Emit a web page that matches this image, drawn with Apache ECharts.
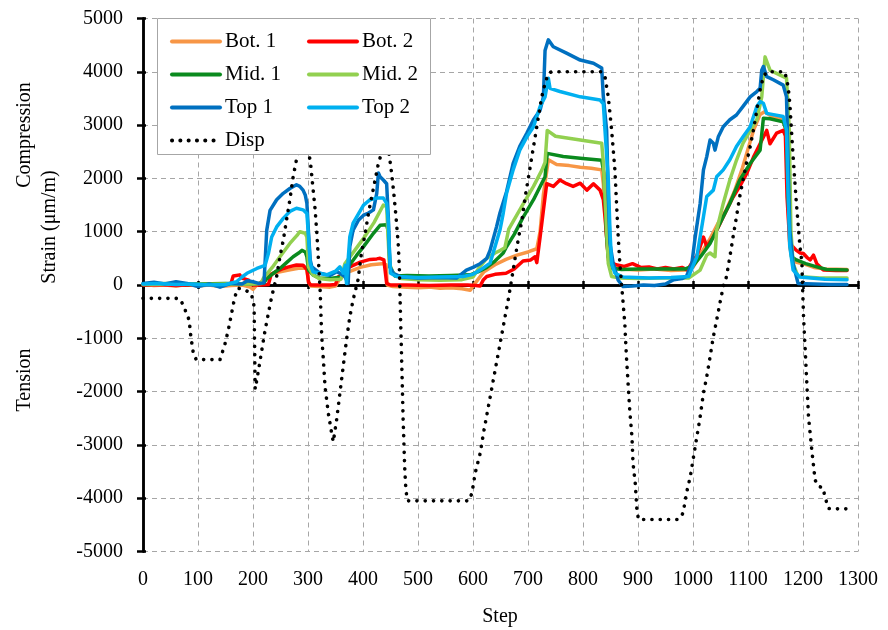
<!DOCTYPE html>
<html>
<head>
<meta charset="utf-8">
<script src="https://cdn.jsdelivr.net/npm/echarts@6/dist/echarts.min.js"></script>
<style>
html,body{margin:0;padding:0;background:#fff;}
#chart{width:888px;height:630px;}
</style>
</head>
<body>
<div id="chart"></div>
<script>
// ---- data (step, value) ----
var xTicks = [0,100,200,300,400,500,600,700,800,900,1000,1100,1200,1300];
var yTicks = [-5000,-4000,-3000,-2000,-1000,0,1000,2000,3000,4000,5000];

var bot1 = [[0,10],[20,-10],[40,0],[60,-20],[80,10],[100,-20],[120,0],[140,-30],[160,-10],[180,0],[195,-40],[200,-80],[205,-20],[215,60],[225,180],[245,240],[265,280],[285,320],[298,310],[301,60],[305,-20],[320,-30],[340,-40],[350,-20],[358,120],[375,250],[395,330],[415,380],[435,400],[442,380],[444,0],[455,-30],[480,-40],[500,-50],[520,-40],[540,-60],[560,-50],[580,-70],[595,-100],[605,50],[620,250],[640,380],[660,480],[680,560],[700,620],[716,680],[722,1000],[728,1700],[737,2350],[752,2260],[775,2240],[795,2210],[815,2190],[834,2160],[837,1900],[842,1050],[846,470],[852,330],[870,300],[900,280],[930,300],[960,270],[985,280],[1000,330],[1015,600],[1030,850],[1045,1150],[1060,1400],[1075,1750],[1090,2200],[1100,2550],[1110,2900],[1122,3200],[1130,3250],[1145,3150],[1165,3100],[1170,2800],[1173,1500],[1176,700],[1182,450],[1190,420],[1200,400],[1220,330],[1240,300],[1280,290]];

var bot2 = [[0,0],[30,10],[60,-10],[90,10],[120,0],[150,10],[160,30],[164,170],[170,180],[176,190],[180,130],[186,110],[192,90],[196,20],[200,0],[215,0],[228,10],[233,200],[240,240],[255,310],[265,340],[279,375],[291,370],[298,290],[301,50],[305,0],[320,0],[340,0],[350,10],[355,150],[365,220],[376,340],[395,430],[413,480],[425,490],[431,500],[438,470],[441,450],[443,30],[450,0],[480,0],[520,-10],[560,0],[590,0],[605,-10],[613,-20],[619,100],[625,160],[640,200],[660,220],[675,300],[691,450],[705,470],[713,530],[716,420],[722,900],[728,1400],[734,1900],[746,1850],[758,1970],[770,1900],[782,1850],[795,1910],[807,1780],[819,1900],[831,1780],[837,1600],[840,1280],[843,900],[846,530],[852,420],[860,380],[875,350],[890,400],[905,330],[920,340],[935,300],[950,330],[965,300],[980,330],[990,280],[1000,450],[1007,550],[1013,720],[1019,900],[1025,720],[1037,900],[1049,1150],[1055,1280],[1067,1530],[1073,1650],[1085,1850],[1098,2100],[1110,2400],[1122,2650],[1134,2900],[1140,2650],[1152,2850],[1164,2900],[1168,2800],[1171,1650],[1176,780],[1188,650],[1195,600],[1201,590],[1207,520],[1213,470],[1219,560],[1225,400],[1237,280],[1260,270],[1280,270]];

var mid1 = [[0,20],[50,30],[100,20],[150,30],[200,20],[220,40],[225,120],[237,220],[249,310],[261,420],[273,530],[283,600],[289,650],[295,620],[298,530],[301,280],[309,190],[320,130],[340,120],[360,150],[367,250],[376,380],[388,550],[401,720],[419,970],[431,1120],[443,1130],[446,1000],[449,340],[458,170],[480,180],[520,170],[560,180],[595,190],[610,250],[625,330],[640,450],[655,600],[660,700],[675,950],[690,1250],[710,1600],[731,2030],[735,2470],[764,2410],[795,2380],[834,2340],[838,2100],[843,900],[846,520],[852,320],[870,290],[900,300],[930,300],[960,300],[985,300],[1000,360],[1015,550],[1031,780],[1049,1160],[1067,1530],[1085,1970],[1104,2280],[1122,2530],[1128,3130],[1140,3120],[1164,3060],[1170,2900],[1173,1650],[1179,530],[1188,470],[1205,400],[1225,340],[1243,290],[1280,280]];

var mid2 = [[0,10],[50,20],[100,10],[150,20],[200,20],[215,30],[219,130],[235,330],[249,530],[267,780],[280,930],[285,1000],[295,970],[298,900],[301,340],[309,190],[320,120],[340,100],[360,110],[367,400],[385,650],[400,860],[420,1170],[437,1500],[443,1470],[448,400],[455,220],[470,120],[500,100],[540,90],[580,100],[600,150],[613,350],[625,500],[640,600],[650,650],[658,700],[665,1050],[690,1500],[710,1850],[725,2150],[731,2300],[735,2900],[750,2790],[795,2720],[834,2660],[837,2300],[843,1030],[846,400],[852,160],[867,130],[900,120],[940,130],[980,130],[992,130],[1013,280],[1025,560],[1031,600],[1040,530],[1043,1030],[1055,1530],[1067,1970],[1079,2340],[1091,2660],[1104,2900],[1116,3100],[1125,3530],[1131,4280],[1140,4030],[1152,3970],[1170,3880],[1175,2900],[1178,1030],[1182,400],[1191,160],[1230,130],[1280,130]];

var top1 = [[0,30],[20,50],[40,20],[60,60],[80,30],[100,-30],[120,20],[140,-40],[160,30],[180,20],[190,80],[200,60],[210,30],[220,40],[225,1030],[231,1400],[243,1600],[255,1720],[267,1810],[279,1880],[285,1850],[291,1780],[295,1690],[298,1530],[301,970],[304,470],[307,340],[322,220],[340,180],[352,250],[358,220],[367,160],[373,30],[376,720],[382,1030],[392,1220],[401,1310],[410,1350],[419,1410],[425,1720],[428,2100],[431,2030],[437,1970],[443,1900],[446,1280],[449,340],[455,220],[470,150],[500,130],[540,140],[570,130],[588,280],[600,330],[613,400],[625,500],[631,650],[643,1100],[649,1350],[661,1750],[673,2280],[685,2600],[698,2850],[710,3100],[722,3280],[728,3530],[731,4400],[737,4600],[746,4470],[770,4350],[795,4220],[819,4160],[834,4070],[837,3530],[843,2900],[846,1660],[849,780],[855,400],[864,90],[873,-30],[890,-20],[910,0],[930,-10],[950,20],[965,100],[980,120],[988,160],[998,410],[1004,900],[1013,1530],[1019,2160],[1025,2410],[1031,2720],[1037,2660],[1040,2530],[1046,2780],[1055,2970],[1067,3100],[1079,3190],[1091,3350],[1104,3530],[1116,3630],[1122,3690],[1125,4030],[1128,4100],[1134,3910],[1146,3850],[1164,3750],[1170,3530],[1173,2280],[1176,1030],[1182,400],[1191,30],[1220,20],[1250,10],[1280,10]];

var top2 = [[0,20],[30,30],[60,10],[90,20],[120,0],[150,10],[170,60],[180,150],[189,220],[207,310],[222,370],[228,590],[234,900],[243,1090],[255,1250],[267,1380],[279,1440],[291,1410],[298,1340],[301,900],[304,410],[309,250],[334,190],[350,260],[358,340],[364,220],[368,370],[370,30],[373,470],[376,900],[382,1160],[392,1340],[401,1500],[413,1600],[425,1630],[437,1630],[443,1530],[446,1200],[448,660],[450,220],[461,160],[500,140],[540,150],[582,160],[600,200],[613,280],[631,410],[640,720],[649,1030],[655,1350],[661,1720],[673,2160],[685,2530],[698,2780],[710,2970],[722,3350],[731,3530],[737,3880],[740,3690],[758,3630],[795,3530],[831,3470],[837,3400],[840,2900],[846,1970],[849,1030],[852,400],[858,220],[873,150],[920,130],[960,140],[992,160],[1007,530],[1019,1280],[1025,1660],[1037,1780],[1043,2030],[1055,2160],[1067,2350],[1079,2600],[1091,2780],[1104,2970],[1116,3350],[1122,3440],[1128,3410],[1134,3220],[1164,3160],[1170,2900],[1173,1660],[1176,720],[1182,280],[1194,150],[1240,110],[1280,100]];

var disp = [[0,-250],[60,-250],[67,-260],[73,-375],[84,-660],[87,-970],[92,-1310],[97,-1400],[140,-1400],[149,-1110],[155,-850],[167,-220],[173,-60],[185,-90],[197,-160],[202,-400],[204,-1950],[210,-1600],[216,-1220],[222,-850],[228,-530],[234,-220],[243,160],[249,530],[255,840],[261,1220],[267,1600],[273,2030],[279,2350],[290,2800],[304,2350],[307,2030],[310,1720],[313,1410],[316,980],[319,470],[322,-90],[325,-970],[328,-1410],[331,-1910],[337,-2410],[343,-2780],[346,-2940],[352,-2530],[358,-2030],[364,-1530],[370,-1030],[376,-600],[382,-280],[391,100],[397,590],[404,970],[410,1350],[416,1660],[422,1970],[428,2280],[432,2420],[440,2800],[448,2420],[452,2100],[456,1720],[460,1280],[464,780],[466,340],[467,-90],[470,-1280],[473,-2530],[476,-3470],[478,-3850],[481,-4050],[592,-4050],[598,-3910],[604,-3530],[613,-3160],[619,-2780],[628,-2280],[637,-1780],[646,-1280],[655,-780],[664,-280],[670,90],[676,470],[682,840],[689,1220],[695,1660],[701,2030],[707,2410],[713,2780],[719,3160],[725,3530],[731,3780],[737,3970],[743,4000],[834,4000],[840,3910],[846,3530],[852,2910],[858,2160],[861,1530],[864,910],[867,410],[870,30],[876,-720],[879,-1350],[882,-1850],[885,-2350],[889,-2850],[891,-3350],[895,-3720],[898,-4220],[901,-4400],[973,-4400],[982,-4280],[988,-3910],[995,-3600],[1001,-3220],[1007,-2850],[1013,-2470],[1019,-2030],[1025,-1720],[1031,-1350],[1037,-970],[1043,-660],[1049,-340],[1055,-30],[1061,160],[1067,530],[1073,910],[1079,1280],[1085,1660],[1091,1970],[1097,2280],[1104,2600],[1110,2910],[1116,3280],[1122,3660],[1128,3910],[1134,4000],[1167,4000],[1173,3720],[1176,3410],[1179,2910],[1182,2410],[1185,1970],[1188,1530],[1191,1160],[1194,780],[1198,410],[1199,30],[1201,-590],[1204,-1220],[1207,-1850],[1210,-2470],[1216,-3100],[1222,-3660],[1228,-3780],[1236,-3800],[1240,-3970],[1246,-4190],[1252,-4200],[1282,-4200]];

var seriesNames = ['Bot. 1','Bot. 2','Mid. 1','Mid. 2','Top 1','Top 2','Disp'];
var seriesColors = ['#F79646','#FF0000','#0A8A1E','#92D050','#0070C0','#00B0F0','#000000'];
var seriesData = [bot1, bot2, mid1, mid2, top1, top2, disp];

// ---- chart ----
var FONT = '"Liberation Serif", "Times New Roman", serif';
var chart = echarts.init(document.getElementById('chart'), null, {renderer: 'canvas'});

var series = seriesData.map(function (d, i) {
  var isDisp = seriesNames[i] === 'Disp';
  return {
    name: seriesNames[i],
    type: 'line',
    xAxisIndex: 0,
    yAxisIndex: 0,
    data: d,
    symbol: 'none',
    showSymbol: false,
    smooth: false,
    animation: false,
    silent: true,
    color: seriesColors[i],
    lineStyle: isDisp
      ? {color: '#000', width: 3.6, type: [0.1, 8.2], cap: 'round', join: 'round'}
      : {color: seriesColors[i], width: 3.5, cap: 'round', join: 'round'},
    z: 2
  };
});

var plainNum = function (v) { return String(v); };
var splitStyle = {show: true, lineStyle: {color: '#a6a6a6', width: 1, type: [5, 4]}};
var gridBox = {left: 143, right: 30, top: 18.5, bottom: 78.5, containLabel: false, outerBoundsMode: 'none'};
var xMin = xTicks[0], xMax = xTicks[xTicks.length - 1];
var yMin = yTicks[0], yMax = yTicks[yTicks.length - 1];
var axisBlack = {color: '#000', width: 2.5};

var option = {
  animation: false,
  backgroundColor: '#fff',
  textStyle: {fontFamily: FONT},
  grid: [gridBox, Object.assign({}, gridBox)],
  xAxis: [{
    // labels + vertical grid lines at the bottom
    gridIndex: 0, type: 'value', position: 'bottom', min: xMin, max: xMax, interval: 100,
    axisLine: {show: false, onZero: false},
    axisTick: {show: false},
    axisLabel: {show: true, margin: 18, color: '#000', fontSize: 20, fontFamily: FONT, formatter: plainNum},
    splitLine: splitStyle
  }, {
    // axis line at zero, ticks downward
    gridIndex: 0, type: 'value', position: 'top', min: xMin, max: xMax, interval: 100,
    axisLine: {show: true, onZero: true, lineStyle: axisBlack},
    axisTick: {show: true, inside: true, length: 4, lineStyle: axisBlack},
    axisLabel: {show: false},
    splitLine: {show: false}
  }, {
    // ticks upward at zero
    gridIndex: 1, type: 'value', position: 'bottom', min: xMin, max: xMax, interval: 100,
    axisLine: {show: true, onZero: true, lineStyle: axisBlack},
    axisTick: {show: true, inside: true, length: 4, lineStyle: axisBlack},
    axisLabel: {show: false},
    splitLine: {show: false}
  }],
  yAxis: [{
    gridIndex: 0, type: 'value', position: 'left', min: yMin, max: yMax, interval: 1000,
    axisLine: {show: true, onZero: false, lineStyle: axisBlack},
    axisTick: {show: true, length: 6, lineStyle: axisBlack},
    axisLabel: {show: true, margin: 20, color: '#000', fontSize: 20, fontFamily: FONT, formatter: plainNum},
    splitLine: splitStyle
  }, {
    gridIndex: 0, type: 'value', position: 'right', min: yMin, max: yMax, interval: 1000,
    axisLine: {show: true, onZero: true, lineStyle: axisBlack},
    axisTick: {show: true, length: 3, lineStyle: axisBlack},
    axisLabel: {show: false},
    splitLine: {show: false}
  }, {
    gridIndex: 1, type: 'value', position: 'left', min: yMin, max: yMax, interval: 1000,
    axisLine: {show: false, onZero: false},
    axisTick: {show: false},
    axisLabel: {show: false},
    splitLine: {show: false}
  }],
  legend: [{
    data: ['Bot. 1', 'Mid. 1', 'Top 1', 'Disp'],
    orient: 'vertical', left: 170, top: 30, padding: 0,
    itemWidth: 48, itemHeight: 14, itemGap: 10, selectedMode: false, z: 6,
    itemStyle: {opacity: 0},
    lineStyle: {width: 4},
    textStyle: {fontFamily: FONT, fontSize: 21, color: '#000', lineHeight: 23}
  }, {
    data: ['Bot. 2', 'Mid. 2', 'Top 2'],
    orient: 'vertical', left: 307, top: 30, padding: 0,
    itemWidth: 48, itemHeight: 14, itemGap: 10, selectedMode: false, z: 6,
    itemStyle: {opacity: 0},
    lineStyle: {width: 4},
    textStyle: {fontFamily: FONT, fontSize: 21, color: '#000', lineHeight: 23}
  }],
  graphic: [
    {type: 'rect', z: 5, silent: true, shape: {x: 157.5, y: 18.5, width: 273, height: 136},
     style: {fill: '#fff', stroke: '#a6a6a6', lineWidth: 1}},
    {type: 'text', z: 5, x: 500, y: 617, silent: true,
     style: {text: 'Step', font: '20px ' + FONT, fill: '#000', textAlign: 'center', textVerticalAlign: 'middle'}},
    {type: 'text', z: 5, x: 25, y: 135, rotation: Math.PI / 2, silent: true,
     style: {text: 'Compression', font: '20px ' + FONT, fill: '#000', textAlign: 'center', textVerticalAlign: 'middle'}},
    {type: 'text', z: 5, x: 50, y: 227, rotation: Math.PI / 2, silent: true,
     style: {text: 'Strain (μm/m)', font: '20px ' + FONT, fill: '#000', textAlign: 'center', textVerticalAlign: 'middle'}},
    {type: 'text', z: 5, x: 25, y: 380, rotation: Math.PI / 2, silent: true,
     style: {text: 'Tension', font: '20px ' + FONT, fill: '#000', textAlign: 'center', textVerticalAlign: 'middle'}}
  ],
  series: series
};
chart.setOption(option);
</script>
</body>
</html>
